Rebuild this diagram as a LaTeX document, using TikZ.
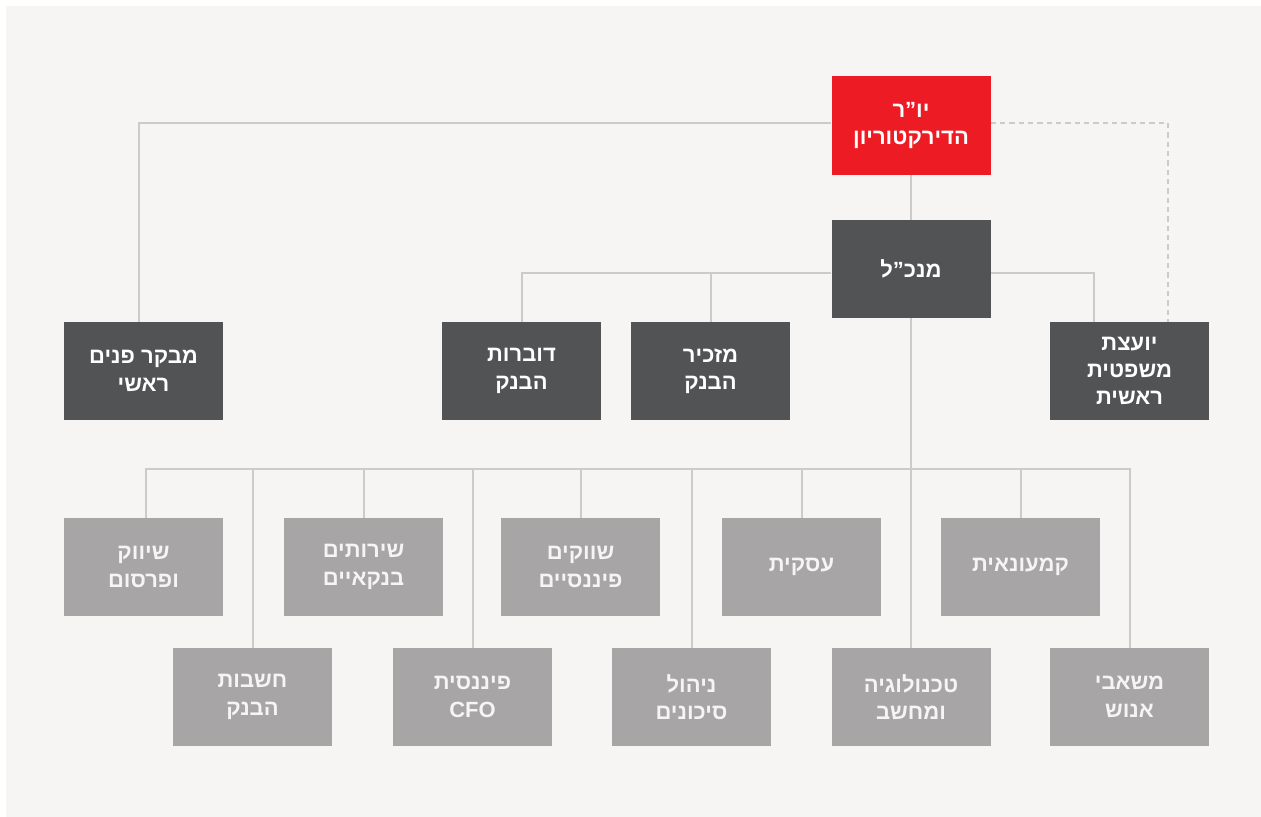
\documentclass[tikz,border=0pt]{standalone}
\usepackage{fontspec}
\newfontfamily\hebfont[Script=Hebrew]{Liberation Sans}
\TeXXeTstate=1
\newcommand{\heb}[1]{\beginR #1\endR}
\definecolor{bgc}{HTML}{F6F5F3}
\definecolor{linec}{HTML}{CCCBC9}
\definecolor{darkc}{HTML}{525355}
\definecolor{lightc}{HTML}{A7A5A6}
\definecolor{redc}{HTML}{ED1C24}
\tikzset{
  box/.style={minimum width=119.25pt, minimum height=73.5pt, inner sep=0pt, align=center,
    text=white, font=\hebfont\bfseries\fontsize{16.5}{20.5}\selectfont},
  redbox/.style={box, fill=redc},
  darkbox/.style={box, fill=darkc},
  lightbox/.style={box, fill=lightc, text=white!96!black},
  conn/.style={draw=linec, line width=1.5pt},
  dconn/.style={conn, dash pattern=on 4pt off 3pt},
}
\begin{document}
\begin{tikzpicture}[x=0.75pt,y=-0.75pt]
\fill[white] (0,0) rectangle (1261,817);
\fill[bgc] (6,6) rectangle (1261,817);
\useasboundingbox (0,0) rectangle (1261,817);

% nodes
\node[redbox, minimum height=74.25pt] (ch) at (911,125.5) {\heb{יו”ר}\\\heb{הדירקטוריון}};
\node[darkbox] (ceo) at (911,269) {\heb{מנכ”ל}};
\node[darkbox] (aud) at (143.5,371) {\heb{מבקר פנים}\\\heb{ראשי}};
\node[darkbox] (spk) at (521.5,371) {\heb{דוברות}\\\heb{הבנק}};
\node[darkbox] (sec) at (710.5,371) {\heb{מזכיר}\\\heb{הבנק}};
\node[darkbox] (leg) at (1129.5,371) {\heb{יועצת}\\\heb{משפטית}\\\heb{ראשית}};

\node[lightbox] (mkt) at (143.5,567) {\heb{שיווק}\\\heb{ופרסום}};
\node[lightbox] (bsv) at (363.5,567) {\heb{שירותים}\\\heb{בנקאיים}};
\node[lightbox] (fm) at (580.5,567) {\heb{שווקים}\\\heb{פיננסיים}};
\node[lightbox] (biz) at (801.5,567) {\heb{עסקית}};
\node[lightbox] (ret) at (1020.5,567) {\heb{קמעונאית}};

\node[lightbox] (acc) at (252.5,697) {\heb{חשבות}\\\heb{הבנק}};
\node[lightbox] (cfo) at (472.5,697) {\heb{פיננסית}\\CFO};
\node[lightbox] (risk) at (691.5,697) {\heb{ניהול}\\\heb{סיכונים}};
\node[lightbox] (tech) at (911,697) {\heb{טכנולוגיה}\\\heb{ומחשב}};
\node[lightbox] (hr) at (1129.5,697) {\heb{משאבי}\\\heb{אנוש}};

% coordinates
\coordinate (bus) at (911,469);
\coordinate (chw) at (832,123);
\coordinate (che) at (991,123);
\coordinate (cew) at (832,273);
\coordinate (cee) at (991,273);
\coordinate (audn) at (139,322);
\coordinate (mktn) at (146,518);
\coordinate (legd) at (1168,322);
\coordinate (legs) at (1094,322);

% connectors
\draw[conn] (ch.west |- chw) -| (audn);
\draw[dconn] (ch.east |- che) -| (legd);
\draw[conn] (ch.south) -- (ceo.north);
\draw[conn] (ceo.west |- cew) -| (spk.north);
\draw[conn] (ceo.west |- cew) -| (sec.north);
\draw[conn] (ceo.east |- cee) -| (legs);
\draw[conn] (ceo.south) -- (tech.north);
\draw[conn] (bus) -| (mktn);
\foreach \n in {bsv,fm,biz,ret,acc,cfo,risk,hr}{
  \draw[conn] (bus) -| (\n.north);
}
\end{tikzpicture}
\end{document}
